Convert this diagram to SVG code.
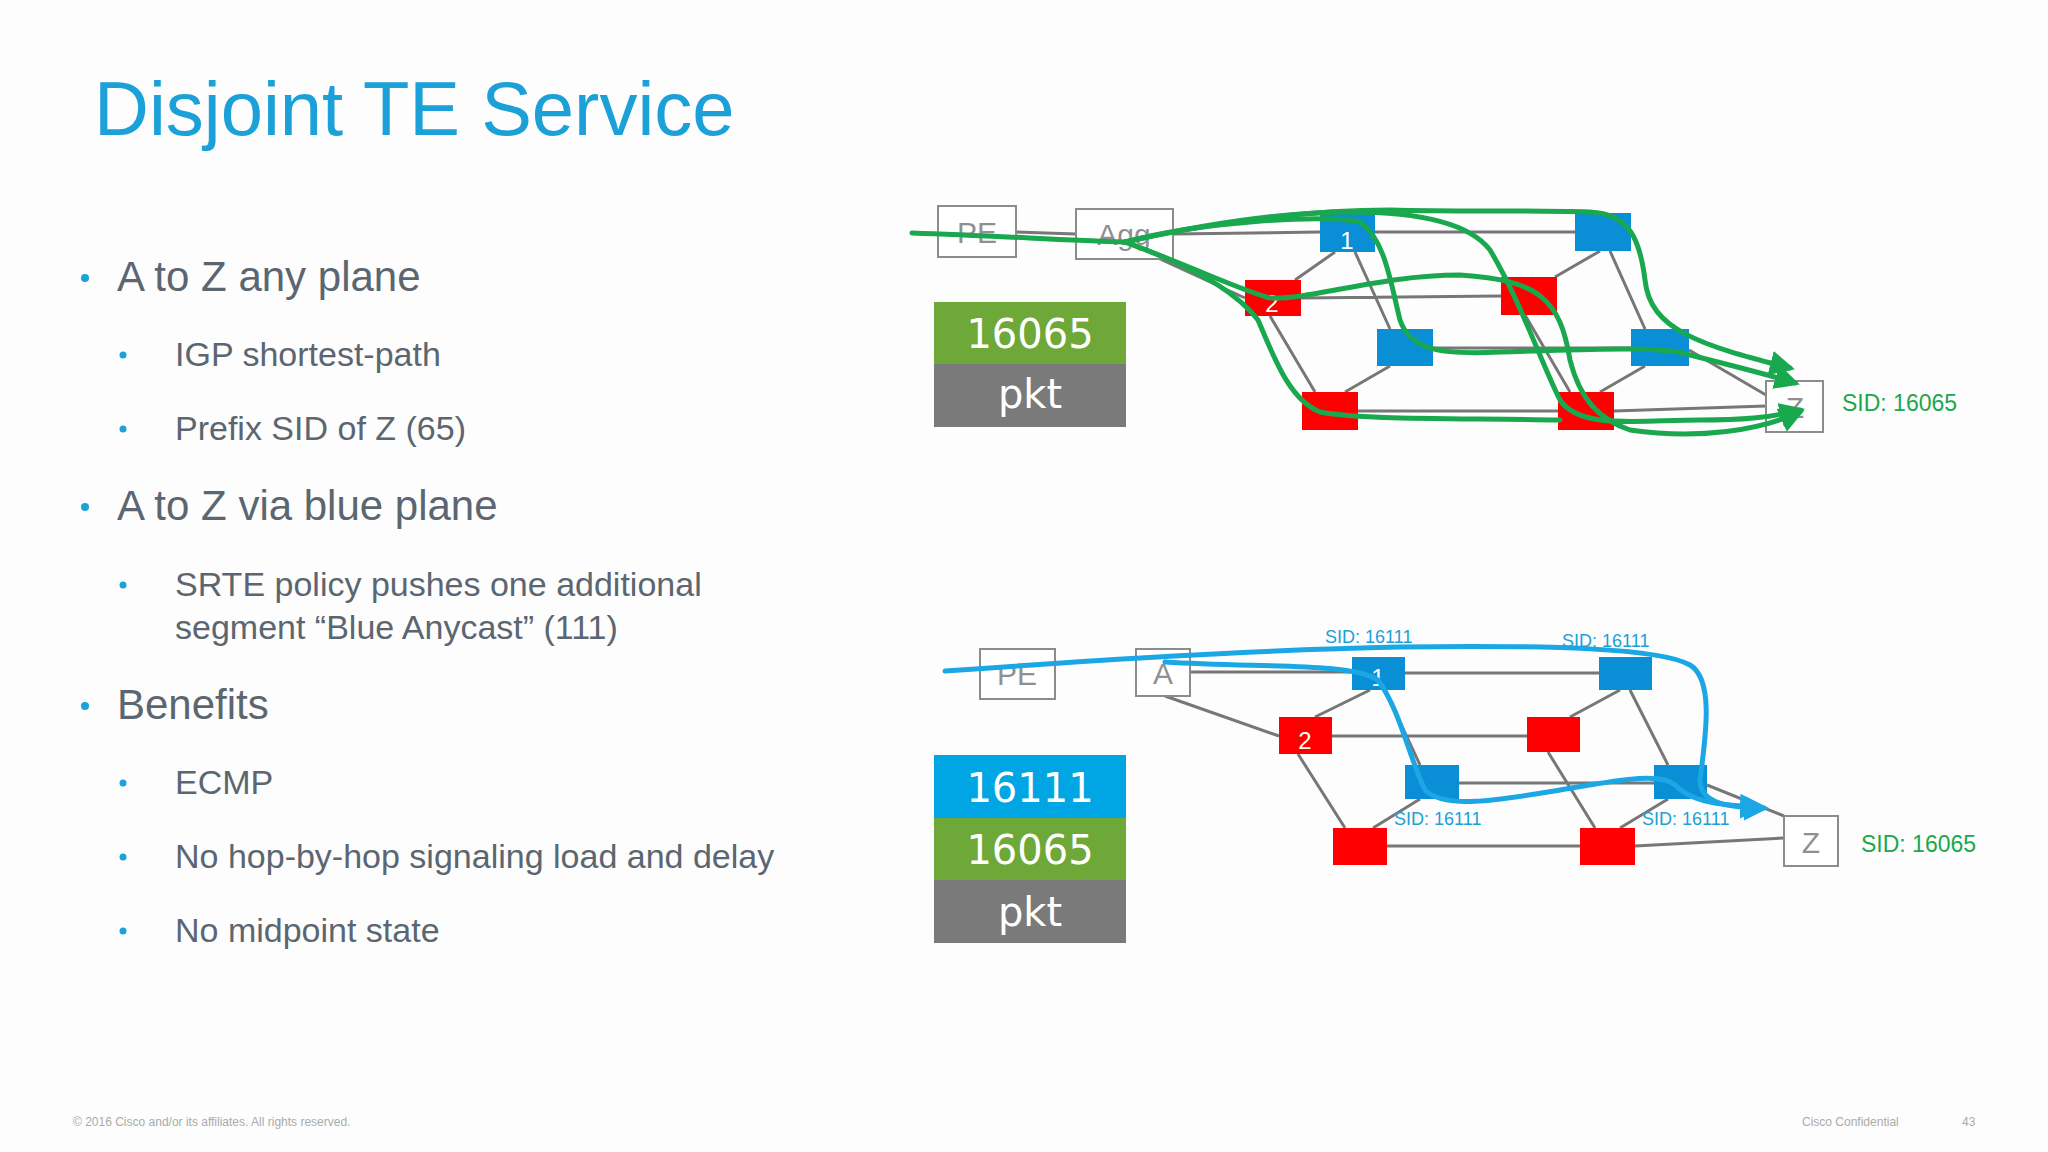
<svg xmlns="http://www.w3.org/2000/svg" width="2048" height="1152" viewBox="0 0 2048 1152">
<defs>
<style>
.t{font-family:"Liberation Sans",Arial,sans-serif}
.h1{fill:#5b6670;font-size:42px}
.h2{fill:#5b6670;font-size:34px}
.bul{fill:#1ba0d7}
.box{fill:#fff;stroke:#8c8c8c;stroke-width:2}
.bl{fill:#0a8fd6}
.rd{fill:#f00}
.lbl{font-family:"Liberation Sans",Arial,sans-serif;fill:#909090;font-size:30px;text-anchor:middle}
.e{stroke:#777;stroke-width:3;fill:none}
.g{stroke:#1aa84e;stroke-width:5;fill:none;stroke-linecap:round}
.b{stroke:#1ba7e4;stroke-width:5;fill:none;stroke-linecap:round}
.st{font-family:"DejaVu Sans",sans-serif;fill:#fff;font-size:40px;text-anchor:middle}
.num{font-family:"Liberation Sans",Arial,sans-serif;fill:#fff;font-size:24px;text-anchor:middle}
.sid{font-family:"Liberation Sans",Arial,sans-serif;fill:#1ba0d7;font-size:18px}
.sidg{font-family:"Liberation Sans",Arial,sans-serif;fill:#1aa84e;font-size:23px}
</style>
<marker id="ag" viewBox="0 0 10 10" refX="8" refY="5" markerWidth="5" markerHeight="5" orient="auto"><path d="M0,0 L10,5 L0,10 z" fill="#1aa84e"/></marker>
<marker id="ab" viewBox="0 0 10 10" refX="8" refY="5" markerWidth="5" markerHeight="5" orient="auto"><path d="M0,0 L10,5 L0,10 z" fill="#1ba7e4"/></marker>
</defs>
<rect width="2048" height="1152" fill="#fdfdfd"/>
<text class="t" x="94" y="135" font-size="76" fill="#1ba0d7">Disjoint TE Service</text>
<g id="bullets">
<circle class="bul" cx="85" cy="278" r="4"/><text class="t h1" x="117" y="291">A to Z any plane</text>
<circle class="bul" cx="123" cy="355" r="3.5"/><text class="t h2" x="175" y="366">IGP shortest-path</text>
<circle class="bul" cx="123" cy="429" r="3.5"/><text class="t h2" x="175" y="440">Prefix SID of Z (65)</text>
<circle class="bul" cx="85" cy="507" r="4"/><text class="t h1" x="117" y="520">A to Z via blue plane</text>
<circle class="bul" cx="123" cy="585" r="3.5"/><text class="t h2" x="175" y="596">SRTE policy pushes one additional</text>
<text class="t h2" x="175" y="639">segment “Blue Anycast” (111)</text>
<circle class="bul" cx="85" cy="706" r="4"/><text class="t h1" x="117" y="719">Benefits</text>
<circle class="bul" cx="123" cy="783" r="3.5"/><text class="t h2" x="175" y="794">ECMP</text>
<circle class="bul" cx="123" cy="857" r="3.5"/><text class="t h2" x="175" y="868">No hop-by-hop signaling load and delay</text>
<circle class="bul" cx="123" cy="931" r="3.5"/><text class="t h2" x="175" y="942">No midpoint state</text>
</g>
<g id="footer" class="t" font-size="12" fill="#aaa">
<text x="73" y="1126">© 2016 Cisco and/or its affiliates. All rights reserved.</text>
<text x="1802" y="1126">Cisco Confidential</text>
<text x="1962" y="1126">43</text>
</g>
<g id="connectors">
<!-- top -->
<path class="e" d="M1016,232 L1076,234 M1173,234 L1320,232 M1160,259 L1245,298 M1375,232 L1575,232 M1301,298 L1501,296 M1433,348 L1631,348 M1358,411 L1558,411 M1335,252 L1295,280 M1355,252 L1390,329 M1270,316 L1315,392 M1390,366 L1345,392 M1600,251 L1555,277 M1610,251 L1645,329 M1525,315 L1570,392 M1645,366 L1600,392 M1614,411 L1766,406 M1689,350 L1766,395"/>
<!-- bottom -->
<path class="e" d="M1190,672 L1352,672 M1165,696 L1279,736 M1405,673 L1599,673 M1332,736 L1527,736 M1459,783 L1654,783 M1387,846 L1580,846 M1370,690 L1315,717 M1385,690 L1420,765 M1298,754 L1345,828 M1420,799 L1373,828 M1620,690 L1570,717 M1630,690 L1668,765 M1548,752 L1595,828 M1668,799 L1620,828 M1635,846 L1784,838 M1707,785 L1784,816"/>
</g>
<g id="node-PE1"><rect class="box" x="938" y="206" width="78" height="51"/><text class="lbl" x="977" y="243">PE</text></g>
<g id="node-Agg"><rect class="box" x="1076" y="209" width="97" height="50"/><text class="lbl" x="1124" y="245">Agg</text></g>
<g id="node-T1"><rect class="bl" x="1320" y="213" width="55" height="39"/><text class="num" x="1347" y="249">1</text></g>
<g id="node-T2"><rect class="bl" x="1575" y="213" width="56" height="38"/></g>
<g id="node-T3"><rect class="rd" x="1245" y="280" width="56" height="36"/><text class="num" x="1272" y="312">2</text></g>
<g id="node-T4"><rect class="rd" x="1501" y="277" width="56" height="38"/></g>
<g id="node-T5"><rect class="bl" x="1377" y="329" width="56" height="37"/></g>
<g id="node-T6"><rect class="bl" x="1631" y="329" width="58" height="37"/></g>
<g id="node-T7"><rect class="rd" x="1302" y="392" width="56" height="38"/></g>
<g id="node-T8"><rect class="rd" x="1558" y="392" width="56" height="38"/></g>
<g id="node-Z1"><rect class="box" x="1766" y="381" width="57" height="51"/><text class="lbl" x="1795" y="418">Z</text><text class="sidg" x="1842" y="411">SID: 16065</text></g>
<g id="stack1"><rect x="934" y="302" width="192" height="62" fill="#6ea838"/><rect x="934" y="364" width="192" height="63" fill="#7a7a7a"/><text class="st" x="1030" y="348">16065</text><text class="st" x="1030" y="408">pkt</text></g>
<g id="green-paths">
<path class="g" d="M912,233 C1000,236 1060,240 1125,242 C1200,225 1280,212 1350,212 C1420,212 1470,224 1490,250 C1520,300 1540,360 1560,400 C1580,430 1640,420 1700,420 C1740,420 1770,418 1800,410" marker-end="url(#ag)"/>
<path class="g" d="M1125,242 C1200,225 1300,210 1390,210 C1460,212 1520,210 1590,212 C1630,214 1640,240 1645,280 C1650,330 1700,345 1790,368" marker-end="url(#ag)"/>
<path class="g" d="M1125,242 C1200,222 1320,214 1360,222 C1385,240 1390,280 1400,320 C1410,350 1440,355 1500,352 C1580,350 1660,345 1690,355 C1730,365 1770,375 1795,383" marker-end="url(#ag)"/>
<path class="g" d="M1125,242 C1200,270 1240,290 1270,298 C1310,300 1380,275 1460,275 C1540,280 1560,300 1570,360 C1580,400 1600,420 1630,430 C1700,440 1760,430 1800,412" marker-end="url(#ag)"/>
<path class="g" d="M1125,242 C1190,265 1235,290 1258,320 C1275,360 1290,400 1320,412 C1360,420 1460,418 1560,420"/>
</g>
<g id="node-PE2"><rect class="box" x="980" y="649" width="75" height="50"/><text class="lbl" x="1017" y="685">PE</text></g>
<g id="node-A"><rect class="box" x="1136" y="649" width="54" height="47"/><text class="lbl" x="1163" y="684">A</text></g>
<g id="node-B1"><rect class="bl" x="1352" y="657" width="53" height="33"/><text class="num" x="1378" y="686">1</text></g>
<g id="node-B2"><rect class="bl" x="1599" y="657" width="53" height="33"/></g>
<g id="node-B3"><rect class="rd" x="1279" y="717" width="53" height="37"/><text class="num" x="1305" y="749">2</text></g>
<g id="node-B4"><rect class="rd" x="1527" y="717" width="53" height="35"/></g>
<g id="node-B5"><rect class="bl" x="1405" y="765" width="54" height="34"/></g>
<g id="node-B6"><rect class="bl" x="1654" y="765" width="53" height="34"/></g>
<g id="node-B7"><rect class="rd" x="1333" y="828" width="54" height="37"/></g>
<g id="node-B8"><rect class="rd" x="1580" y="828" width="55" height="37"/></g>
<g id="node-Z2"><rect class="box" x="1784" y="816" width="54" height="50"/><text class="lbl" x="1811" y="853">Z</text><text class="sidg" x="1861" y="852">SID: 16065</text></g>
<g id="sids">
<text class="sid" x="1325" y="643">SID: 16111</text>
<text class="sid" x="1562" y="647">SID: 16111</text>
<text class="sid" x="1394" y="825">SID: 16111</text>
<text class="sid" x="1642" y="825">SID: 16111</text>
</g>
<g id="stack2"><rect x="934" y="755" width="192" height="63" fill="#00a6e4"/><rect x="934" y="818" width="192" height="62" fill="#6ea838"/><rect x="934" y="880" width="192" height="63" fill="#7a7a7a"/><text class="st" x="1030" y="802">16111</text><text class="st" x="1030" y="864">16065</text><text class="st" x="1030" y="926">pkt</text></g>
<g id="blue-paths">
<path class="b" d="M945,671 C1100,660 1250,650 1400,647 C1550,645 1660,648 1690,665 C1715,680 1705,740 1700,780 C1700,800 1720,808 1764,808" marker-end="url(#ab)"/>
<path class="b" d="M1165,662 C1260,668 1350,662 1378,680 C1400,710 1410,760 1425,790 C1445,810 1500,800 1560,790 C1620,780 1660,772 1675,785 C1690,800 1710,805 1760,807" marker-end="url(#ab)"/>
</g>
</svg>
